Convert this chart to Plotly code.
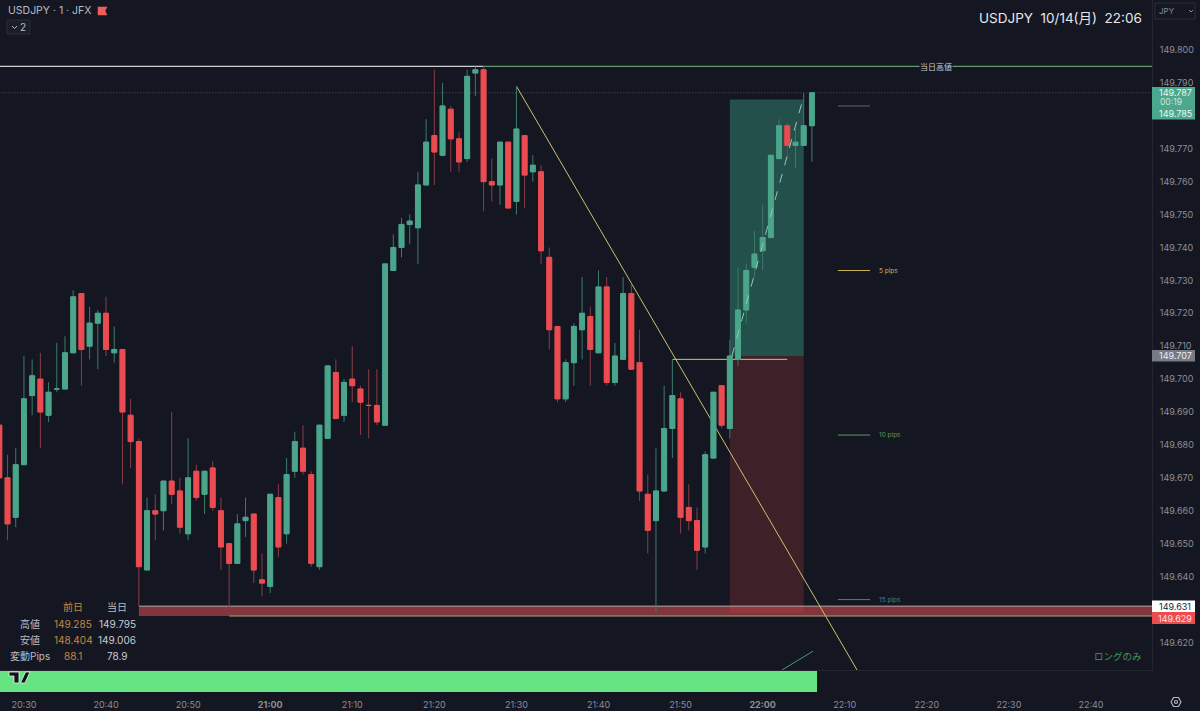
import pandas as pd
import plotly.graph_objects as go

# 1-minute bars, first bar 20:27, last bar 22:06
START = pd.Timestamp("2024-10-14 20:27")
opens = [
    149.686, 149.670, 149.658, 149.674, 149.695, 149.700, 149.689, 149.697, 149.697, 149.708,
    149.726, 149.710, 149.717, 149.720, 149.708, 149.709, 149.689, 149.681, 149.642, 149.660,
    149.660, 149.669, 149.666, 149.653, 149.672, 149.665, 149.673, 149.660, 149.650, 149.644,
    149.657, 149.659, 149.639, 149.637, 149.664, 149.653, 149.672, 149.679, 149.671, 149.643,
    149.682, 149.702, 149.689, 149.700, 149.697, 149.692, 149.692, 149.686, 149.733, 149.740,
    149.747, 149.746, 149.759, 149.774, 149.768, 149.782, 149.773, 149.767, 149.793, 149.794,
    149.760, 149.759, 149.772, 149.754, 149.774, 149.763, 149.763, 149.737, 149.716, 149.694,
    149.705, 149.715, 149.719, 149.708, 149.728, 149.699, 149.706, 149.726, 149.705, 149.665,
    149.657, 149.666, 149.685, 149.694, 149.661, 149.657, 149.649, 149.676, 149.698, 149.685,
    149.706, 149.721, 149.734, 149.739, 149.743, 149.767, 149.777, 149.771, 149.771, 149.777,
]
highs = [
    149.688, 149.677, 149.679, 149.707, 149.706, 149.708, 149.699, 149.711, 149.713, 149.727,
    149.726, 149.722, 149.721, 149.725, 149.716, 149.709, 149.694, 149.682, 149.664, 149.665,
    149.669, 149.690, 149.670, 149.682, 149.674, 149.672, 149.675, 149.664, 149.650, 149.659,
    149.664, 149.659, 149.647, 149.665, 149.668, 149.676, 149.684, 149.686, 149.672, 149.686,
    149.704, 149.706, 149.700, 149.710, 149.698, 149.703, 149.703, 149.735, 149.744, 149.749,
    149.750, 149.763, 149.779, 149.794, 149.790, 149.783, 149.775, 149.794, 149.795, 149.795,
    149.767, 149.772, 149.772, 149.789, 149.774, 149.768, 149.765, 149.740, 149.716, 149.706,
    149.717, 149.731, 149.722, 149.733, 149.731, 149.711, 149.731, 149.729, 149.715, 149.671,
    149.679, 149.698, 149.706, 149.696, 149.668, 149.661, 149.678, 149.696, 149.698, 149.712,
    149.734, 149.735, 149.745, 149.753, 149.768, 149.779, 149.778, 149.776, 149.787, 149.787,
]
lows = [
    149.668, 149.651, 149.655, 149.674, 149.689, 149.679, 149.687, 149.696, 149.697, 149.708,
    149.698, 149.706, 149.703, 149.707, 149.705, 149.668, 149.673, 149.631, 149.642, 149.651,
    149.654, 149.662, 149.653, 149.651, 149.663, 149.659, 149.660, 149.642, 149.628, 149.644,
    149.652, 149.638, 149.634, 149.635, 149.646, 149.650, 149.670, 149.671, 149.643, 149.642,
    149.682, 149.688, 149.687, 149.693, 149.683, 149.682, 149.686, 149.686, 149.733, 149.737,
    149.741, 149.735, 149.759, 149.759, 149.768, 149.763, 149.763, 149.766, 149.786, 149.751,
    149.754, 149.753, 149.752, 149.750, 149.752, 149.760, 149.735, 149.709, 149.693, 149.693,
    149.698, 149.706, 149.698, 149.708, 149.698, 149.698, 149.706, 149.703, 149.663, 149.647,
    149.629, 149.666, 149.676, 149.653, 149.654, 149.642, 149.647, 149.676, 149.685, 149.682,
    149.704, 149.717, 149.731, 149.733, 149.743, 149.767, 149.767, 149.764, 149.771, 149.766,
]
closes = [
    149.670, 149.656, 149.674, 149.694, 149.701, 149.690, 149.696, 149.697, 149.708, 149.725,
    149.709, 149.717, 149.720, 149.709, 149.709, 149.690, 149.681, 149.643, 149.660, 149.659,
    149.669, 149.665, 149.655, 149.670, 149.664, 149.672, 149.661, 149.649, 149.644, 149.656,
    149.658, 149.642, 149.638, 149.665, 149.649, 149.671, 149.681, 149.672, 149.644, 149.686,
    149.704, 149.688, 149.699, 149.698, 149.693, 149.692, 149.687, 149.735, 149.740, 149.747,
    149.748, 149.759, 149.772, 149.769, 149.783, 149.773, 149.766, 149.792, 149.794, 149.760,
    149.759, 149.772, 149.752, 149.776, 149.762, 149.765, 149.739, 149.715, 149.694, 149.705,
    149.716, 149.720, 149.709, 149.728, 149.699, 149.707, 149.726, 149.703, 149.666, 149.654,
    149.666, 149.685, 149.695, 149.658, 149.657, 149.648, 149.677, 149.696, 149.686, 149.707,
    149.721, 149.733, 149.738, 149.743, 149.768, 149.777, 149.771, 149.772, 149.777, 149.787,
]

price_ticks = [149.62, 149.64, 149.65, 149.66, 149.67, 149.68, 149.69, 149.70, 149.71,
               149.72, 149.73, 149.74, 149.75, 149.76, 149.77, 149.79, 149.80]
time_ticks = ["20:30", "20:40", "20:50", "21:00", "21:10", "21:20", "21:30",
              "21:40", "21:50", "22:00", "22:10", "22:20", "22:30", "22:40"]
bold_times = ["21:00", "22:00"]

day_high = 149.795
last_price = 149.787
zone_top, zone_bottom = 149.631, 149.628
entry, target, stop = 149.707, 149.785, 149.629
pip_levels = [("", 149.783, "#5f636c"), ("5 pips", 149.733, "#c9b458"),
              ("10 pips", 149.683, "#5f9a57"), ("15 pips", 149.633, "#3f8296")]

table_head = ["前日", "当日"]
table_rows = [("高値", "149.285", "149.795"),
              ("安値", "148.404", "149.006"),
              ("変動Pips", "88.1", "78.9")]

BG = "#141722"
GREEN = "#4ba58b"
RED = "#ec4b50"
GREEN_WICK = "#3b7a6a"
RED_WICK = "#8a3d44"
YELLOW = "#cfc06a"
AXIS_TEXT = "#8b8e97"
FONT = "Inter, 'Noto Sans CJK JP', sans-serif"
PLOT_W, PLOT_H = 1152, 670


def t(hhmm, sec=0):
    return pd.Timestamp(f"2024-10-14 {hhmm}") + pd.Timedelta(seconds=sec)


def px(x):
    return x / PLOT_W


def py(y):
    return 1 - y / PLOT_H


times = [START + pd.Timedelta(minutes=i) for i in range(len(opens))]
body_high = [max(o, c) for o, c in zip(opens, closes)]
body_low = [min(o, c) for o, c in zip(opens, closes)]

fig = go.Figure()

# wicks are dimmer than bodies, so they get their own trace underneath
fig.add_trace(go.Candlestick(
    x=times, open=opens, high=highs, low=lows, close=closes,
    whiskerwidth=0,
    increasing=dict(line=dict(color=GREEN_WICK, width=1), fillcolor=GREEN_WICK),
    decreasing=dict(line=dict(color=RED_WICK, width=1), fillcolor=RED_WICK),
    hoverinfo="skip",
))
fig.add_trace(go.Candlestick(
    x=times, open=opens, high=body_high, low=body_low, close=closes,
    whiskerwidth=0,
    increasing=dict(line=dict(color=GREEN, width=1), fillcolor=GREEN),
    decreasing=dict(line=dict(color=RED, width=1), fillcolor=RED),
))

shapes = []
annots = []


def rect(x0, x1, y0, y1, fill, layer="below"):
    shapes.append(dict(type="rect", xref="x", yref="y", x0=x0, x1=x1, y0=y0, y1=y1,
                       fillcolor=fill, line=dict(width=0), layer=layer))


def line(x0, y0, x1, y1, color, width=1, dash="solid", layer="below"):
    shapes.append(dict(type="line", xref="x", yref="y", x0=x0, x1=x1, y0=y0, y1=y1,
                       line=dict(color=color, width=width, dash=dash), layer=layer))


def page_rect(x0, x1, y0, y1, fill="rgba(0,0,0,0)", border=None, bw=1):
    shapes.append(dict(type="rect", xref="paper", yref="paper",
                       x0=px(x0), x1=px(x1), y0=py(y0), y1=py(y1), fillcolor=fill,
                       line=dict(width=bw if border else 0, color=border or fill), layer="above"))


def page_path(points, color, fill="rgba(0,0,0,0)", width=1, close=False):
    d = "M" + " L".join(f"{px(a):.5f},{py(b):.5f}" for a, b in points) + (" Z" if close else "")
    shapes.append(dict(type="path", xref="paper", yref="paper", path=d, fillcolor=fill,
                       line=dict(color=color, width=width), layer="above"))


def label(x, y, s, size=10, color="#d1d4dc", anchor="center", bg=None):
    annots.append(dict(xref="paper", yref="paper", x=px(x), y=py(y), text=s, showarrow=False,
                       xanchor=anchor, yanchor="middle", bgcolor=bg, borderpad=0,
                       font=dict(family=FONT, size=size, color=color)))


# long position boxes
rect(t("21:56"), t("22:05"), entry, target, "#24504b")
rect(t("21:56"), t("22:05"), stop, entry, "#3e2028")
# previous support band
rect(t("20:44"), t("22:47", 26), zone_bottom, zone_top, "rgba(200,72,78,0.62)")
line(t("20:44"), zone_top, t("22:47", 26), zone_top, "#b9a9a9", 1)
line(t("20:55"), zone_bottom, t("22:47", 26), zone_bottom, "#a9a878", 1)
# day high, last price
line(t("20:27"), day_high, t("21:26"), day_high, "#cfcfcf", 1.3)
line(t("21:26"), day_high, t("22:47", 26), day_high, "#5f9a6c", 1.2)
line(t("20:27"), last_price, t("22:47", 26), last_price, "#50535c", 1, "1px,2px")
# trend line, signal line, projection
line(t("21:30"), 149.789, t("22:11", 30), 149.6116, YELLOW, 1)
line(t("21:49"), 149.706, t("22:03"), 149.706, "#d9c36a", 1)
line(t("21:56", 15), 149.707, t("22:05"), 149.786, "#9cc4b6", 1, "dash", layer="above")
# small green stroke over the bottom bar
line(t("22:02", 21), 149.6116, t("22:06", 8), 149.6173, "#4d9a6a", 1)

for name, level, color in pip_levels:
    line(t("22:09", 10), level, t("22:13", 5), level, color, 1)
    if name:
        label(878, PLOT_H * (149.8152 - level) / (149.8152 - 149.6116), name, 6.5, color, "left")

label(936, 67, "当日高値", 8, "#c8cbd2", bg=BG)

# session table
for x, s, col in zip([73, 117], table_head, ["#c5883f", "#b9bcc4"]):
    label(x, 607, s, 10, col)
for i, (name, prev, today) in enumerate(table_rows):
    yy = 624 + i * 16
    label(30, yy, name, 10, "#b9bcc4")
    label(73, yy, prev, 10, "#c5883f")
    label(117, yy, today, 10, "#c9ccd3")

label(1118, 656, "ロングのみ", 9.5, "#3f9a58")

# bottom bar and logo
page_rect(0, 817, 671, 692, "#66e383")
page_path([(9, 672), (19, 672), (19, 683), (14, 683), (14, 676), (9, 676)], "#e8f5ea", "#10131c", 0.8, True)
page_path([(25.5, 672), (30, 672), (25, 683), (20.5, 683)], "#e8f5ea", "#10131c", 0.8, True)

# header texts
label(7, 10, "USDJPY · 1 · JFX", 10.5, "#b9bcc4", "left")
page_path([(98, 7), (107, 7), (105, 11), (107, 15), (98, 15)], "#ef5f5a", "#ef5f5a", 0.5, True)
page_rect(7, 30, 20, 34, "#1b1e29", "#2a2e39")
page_path([(12, 26), (14.5, 28.5), (17, 26)], "#b9bcc4")
label(23, 27, "2", 10, "#b9bcc4")
label(978, 18, "USDJPY&nbsp;&nbsp;10/14(月)&nbsp;&nbsp;22:06", 13.5, "#e6e7ea", "left")
page_rect(1155, 1195, 3, 19, BG, "#2a2e39")
label(1158, 11, "JPY", 8, AXIS_TEXT, "left")
page_path([(1189, 10), (1191, 12), (1193, 10)], AXIS_TEXT)

# price labels on the scale
page_rect(1152, 1195, 87, 119.5, "#4ba88c")
label(1175, 92.5, "149.787", 9, "#eef5f2")
label(1159, 102, "00:19", 8.5, "#cfe5dd", "left")
label(1175, 113.5, "149.785", 9, "#eef5f2")
page_rect(1152, 1195, 350, 361.5, "#787b86")
label(1175, 355.5, "149.707", 9, "#eeeeee")
page_rect(1152, 1195, 600.5, 612, "#ffffff")
label(1175, 606.5, "149.631", 9, "#23262f")
page_rect(1152, 1195, 612, 624, "#ec4b50")
label(1175, 618, "149.629", 9, "#fde2e2")

# settings icon
page_path([(1171, 702), (1173.5, 697.5), (1178.5, 697.5), (1181, 702), (1178.5, 706.5), (1173.5, 706.5)],
          "#b2b5be", width=1.2, close=True)
shapes.append(dict(type="circle", xref="paper", yref="paper", x0=px(1174.5), x1=px(1177.5),
                   y0=py(703.5), y1=py(700.5), line=dict(color="#b2b5be", width=1.2), layer="above"))

time_vals = [t(s) for s in time_ticks]
time_text = [f"<b>{s}</b>" if s in bold_times else s for s in time_ticks]

fig.update_layout(
    width=1200,
    height=711,
    margin=dict(l=0, r=48, t=0, b=41),
    paper_bgcolor=BG,
    plot_bgcolor=BG,
    showlegend=False,
    boxgap=0.15,
    boxmode="overlay",
    dragmode=False,
    font=dict(family=FONT, size=9, color=AXIS_TEXT),
    shapes=shapes,
    annotations=annots,
    xaxis=dict(
        type="date",
        range=[t("20:27", 5), t("22:47", 26)],
        rangeslider=dict(visible=False),
        showgrid=False,
        zeroline=False,
        showline=True,
        linecolor="#23262f",
        tickmode="array",
        tickvals=time_vals,
        ticktext=time_text,
        ticks="outside",
        ticklen=26,
        tickcolor="rgba(0,0,0,0)",
    ),
    yaxis=dict(
        side="right",
        range=[149.6116, 149.8152],
        showgrid=False,
        zeroline=False,
        showline=True,
        linecolor="#23262f",
        tickmode="array",
        tickvals=price_ticks,
        ticktext=[f"{p:.3f}" for p in price_ticks],
        ticks="outside",
        ticklen=5,
        tickcolor="rgba(0,0,0,0)",
    ),
)

# the page body has a default margin that would shift the chart
fig.write_html(
    "out.html",
    config={"displayModeBar": False},
    post_script="document.body.style.margin='0';document.body.style.overflow='hidden';",
)
